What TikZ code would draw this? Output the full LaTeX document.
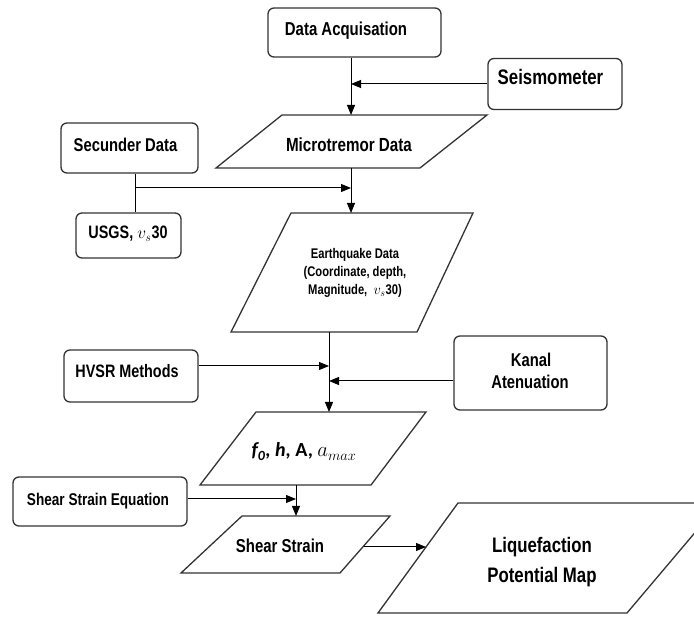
\documentclass[tikz,border=0pt]{standalone}
\usepackage{fontspec}
\newfontfamily\nar[FakeStretch=0.8]{Liberation Sans}
\newfontfamily\calb{Carlito}
\usetikzlibrary{arrows.meta}
\newcommand{\fsz}[1]{\fontsize{#1}{#1}\selectfont}
\begin{document}
\begin{tikzpicture}[x=1pt,y=-1pt,
  rbox/.style={draw=black!80,line width=1.3pt,rounded corners=6pt,fill=white,inner sep=0pt},
  para/.style={draw=black!80,line width=1.3pt},
  lbl/.style={anchor=base,inner sep=0pt},
  arr/.style={line width=1pt,-{Triangle[length=10pt,width=8pt]}},
  ln/.style={line width=1pt}]
\useasboundingbox (0,0) rectangle (694,617);
\clip (0,0) rectangle (694,617);
% rounded boxes
\node[rbox,minimum width=173pt,minimum height=49pt] (da) at (354.5,32.5) {};
\node[lbl,font=\nar\bfseries\fsz{18.7}] (daT) at (346,36) {Data Acquisation};
\node[rbox,minimum width=134pt,minimum height=51pt] (seis) at (555,84) {};
\node[lbl,font=\nar\bfseries\fsz{21}] (seisT) at (550.5,85) {Seismometer};
\node[rbox,minimum width=137pt,minimum height=50pt] (sec) at (129.5,148) {};
\node[lbl,font=\nar\bfseries\fsz{18.5}] (secT) at (125.5,152) {Secunder Data};
\node[rbox,minimum width=105pt,minimum height=45pt] (usgs) at (128.5,235.5) {};
\node[lbl,font=\nar\bfseries\fsz{18}] (usgsT) at (128,239) {USGS, $v_s$30};
\node[rbox,minimum width=134pt,minimum height=52pt] (hvsr) at (131,376) {};
\node[lbl,font=\nar\bfseries\fsz{18}] (hvsrT) at (127,378) {HVSR Methods};
\node[rbox,minimum width=153pt,minimum height=74pt] (kanal) at (530.5,373) {};
\node[lbl,font=\nar\bfseries\fsz{18.5}] (kanalT1) at (531,367) {Kanal};
\node[lbl,font=\nar\bfseries\fsz{18.5}] (kanalT2) at (530,388.5) {Atenuation};
\node[rbox,minimum width=174pt,minimum height=49pt] (sse) at (100,501.5) {};
\node[lbl,font=\nar\bfseries\fsz{17}] (sseT) at (98,505.5) {Shear Strain Equation};
% parallelograms
\draw[para] (282,115) -- (487,115) -- (420,168) -- (216,168) -- cycle;
\node[lbl,font=\nar\bfseries\fsz{19}] (mt) at (349,151.5) {Microtremor Data};
\draw[para] (291,213) -- (473,213) -- (417,332) -- (231,332) -- cycle;
\node[lbl,font=\nar\bfseries\fsz{14}] (eq1) at (355,259) {Earthquake Data};
\node[lbl,font=\nar\bfseries\fsz{14}] (eq2) at (355,276.7) {(Coordinate, depth,};
\node[lbl,font=\nar\bfseries\fsz{14}] (eq3) at (355,294.3) {Magnitude,\ \ $v_s$30)};
\draw[para] (256,412) -- (426,412) -- (371,485) -- (200,485) -- cycle;
\node[lbl,font=\calb\bfseries\fsz{20}] (fo) at (304,457) {\itshape f\textsubscript{0}, h, \upshape A, $a_{max}$};
\draw[para] (242,516) -- (390,516) -- (340,573) -- (181,573) -- cycle;
\node[lbl,font=\nar\bfseries\fsz{18.7}] (ss) at (280,552) {Shear Strain};
\draw[para] (458,503) -- (720,503) -- (627,613) -- (378,613) -- cycle;
\node[lbl,font=\nar\bfseries\fsz{21}] (lpm1) at (542,553) {Liquefaction};
\node[lbl,font=\nar\bfseries\fsz{21}] (lpm2) at (542,582) {Potential Map};
% connector coordinates
\coordinate (mttop) at (351,115);
\coordinate (mtbot) at (351,168);
\coordinate (eqtop) at (351,213);
\coordinate (eqbot) at (329,332);
\coordinate (fotop) at (329,412);
\coordinate (fobot) at (296,485);
\coordinate (sstop) at (296,516);
\coordinate (ssright) at (364,547);
\coordinate (lpmleft) at (426,547);
\coordinate (secjoin) at (135,188);
% connectors
\draw[arr] (da.south -| mttop) -- (mttop);
\draw[arr] (seis.west) -- (seis.west -| mttop);
\draw[ln] (sec.south -| secjoin) -- (usgs.north -| secjoin);
\draw[arr] (secjoin) -- (secjoin -| mttop);
\draw[arr] (mtbot) -- (eqtop);
\draw[arr] (eqbot) -- (fotop);
\draw[arr] (hvsr.east |- 0,366) -- (fotop |- 0,366);
\draw[arr] (kanal.west |- 0,381) -- (fotop |- 0,381);
\draw[arr] (fobot) -- (sstop);
\draw[arr] (sse.east |- 0,499) -- (sstop |- 0,499);
\draw[arr] (ssright) -- (lpmleft);
\end{tikzpicture}
\end{document}
